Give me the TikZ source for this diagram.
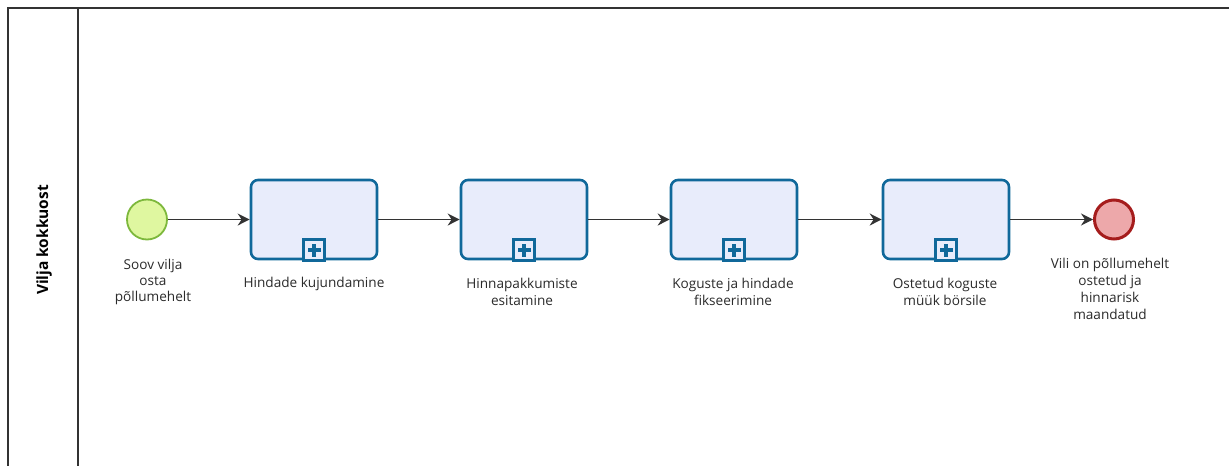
\documentclass[tikz,border=0pt]{standalone}
\usepackage{fontspec}
\setmainfont{Open Sans}
\usetikzlibrary{arrows.meta}
\definecolor{taskfill}{HTML}{E8ECFB}
\definecolor{taskline}{HTML}{10689A}
\definecolor{startfill}{HTML}{DFF7A0}
\definecolor{startline}{HTML}{7DB83C}
\definecolor{endfill}{HTML}{EDA8AA}
\definecolor{endline}{HTML}{A51C1C}
\definecolor{poolline}{HTML}{333333}
\definecolor{txt}{HTML}{2A2A2A}
\tikzset{
  task/.style={draw=taskline, fill=taskfill, line width=2.6pt, rounded corners=7pt,
    minimum width=126pt, minimum height=79pt, inner sep=0pt},
  marker/.style={draw=taskline, fill=taskfill, line width=2.2pt, minimum size=21pt, inner sep=0pt},
  startev/.style={circle, draw=startline, fill=startfill, line width=1.8pt, minimum size=40pt, inner sep=0pt},
  endev/.style={circle, draw=endline, fill=endfill, line width=3pt, minimum size=39pt, inner sep=0pt},
  flow/.style={draw=poolline, line width=1.2pt, -{Stealth[length=12pt,width=12pt]}},
  lbl/.style={text=txt, font=\fontsize{13.6}{17}\selectfont, align=center, inner sep=0pt},
  pool/.style={draw=poolline, line width=1.4pt}
}
\begin{document}
\begin{tikzpicture}[x=1pt,y=-1pt]
  \useasboundingbox (0,0) rectangle (1229,466);
  % pool and lane header
  \draw[pool] (1229,8) -- (8,8) -- (8,466);
  \draw[pool] (78,8) -- (78,466);
  \node[rotate=90, font=\fontsize{15.5}{18}\selectfont\bfseries, text=black] (lane) at (44,240) {Vilja kokkuost};

  % events and tasks
  \node[startev] (start) at (147,219.5) {};
  \node[task] (t1) at (314,219.5) {};
  \node[task] (t2) at (524,219.5) {};
  \node[task] (t3) at (734,219.5) {};
  \node[task] (t4) at (946,219.5) {};
  \node[endev] (end) at (1114,219.5) {};

  % collapsed sub-process markers
  \foreach \t in {t1,t2,t3,t4}{
    \node[marker, anchor=south] (\t m) at ([yshift=-1.3pt]\t.south) {};
    \fill[taskline] ([xshift=-6.5pt,yshift=-2.2pt]\t m.center) rectangle ([xshift=6.5pt,yshift=2.2pt]\t m.center);
    \fill[taskline] ([xshift=-2.2pt,yshift=-6.5pt]\t m.center) rectangle ([xshift=2.2pt,yshift=6.5pt]\t m.center);
  }

  % sequence flows
  \draw[flow] (start) -- (t1);
  \draw[flow] (t1) -- (t2);
  \draw[flow] (t2) -- (t3);
  \draw[flow] (t3) -- (t4);
  \draw[flow] (t4) -- (end);

  % labels
  \node[lbl, anchor=north, font=\fontsize{13.6}{16}\selectfont] (ls) at (153,259) {Soov vilja\\osta\\põllumehelt};
  \node[lbl, anchor=north] (l1) at (314,277) {Hindade kujundamine};
  \node[lbl, anchor=north] (l2) at (522,278) {Hinnapakkumiste\\esitamine};
  \node[lbl, anchor=north] (l3) at (733,278) {Koguste ja hindade\\fikseerimine};
  \node[lbl, anchor=north] (l4) at (945,278) {Ostetud koguste\\müük börsile};
  \node[lbl, anchor=north] (le) at (1110,258) {Vili on põllumehelt\\ostetud ja\\hinnarisk\\maandatud};
\end{tikzpicture}
\end{document}
